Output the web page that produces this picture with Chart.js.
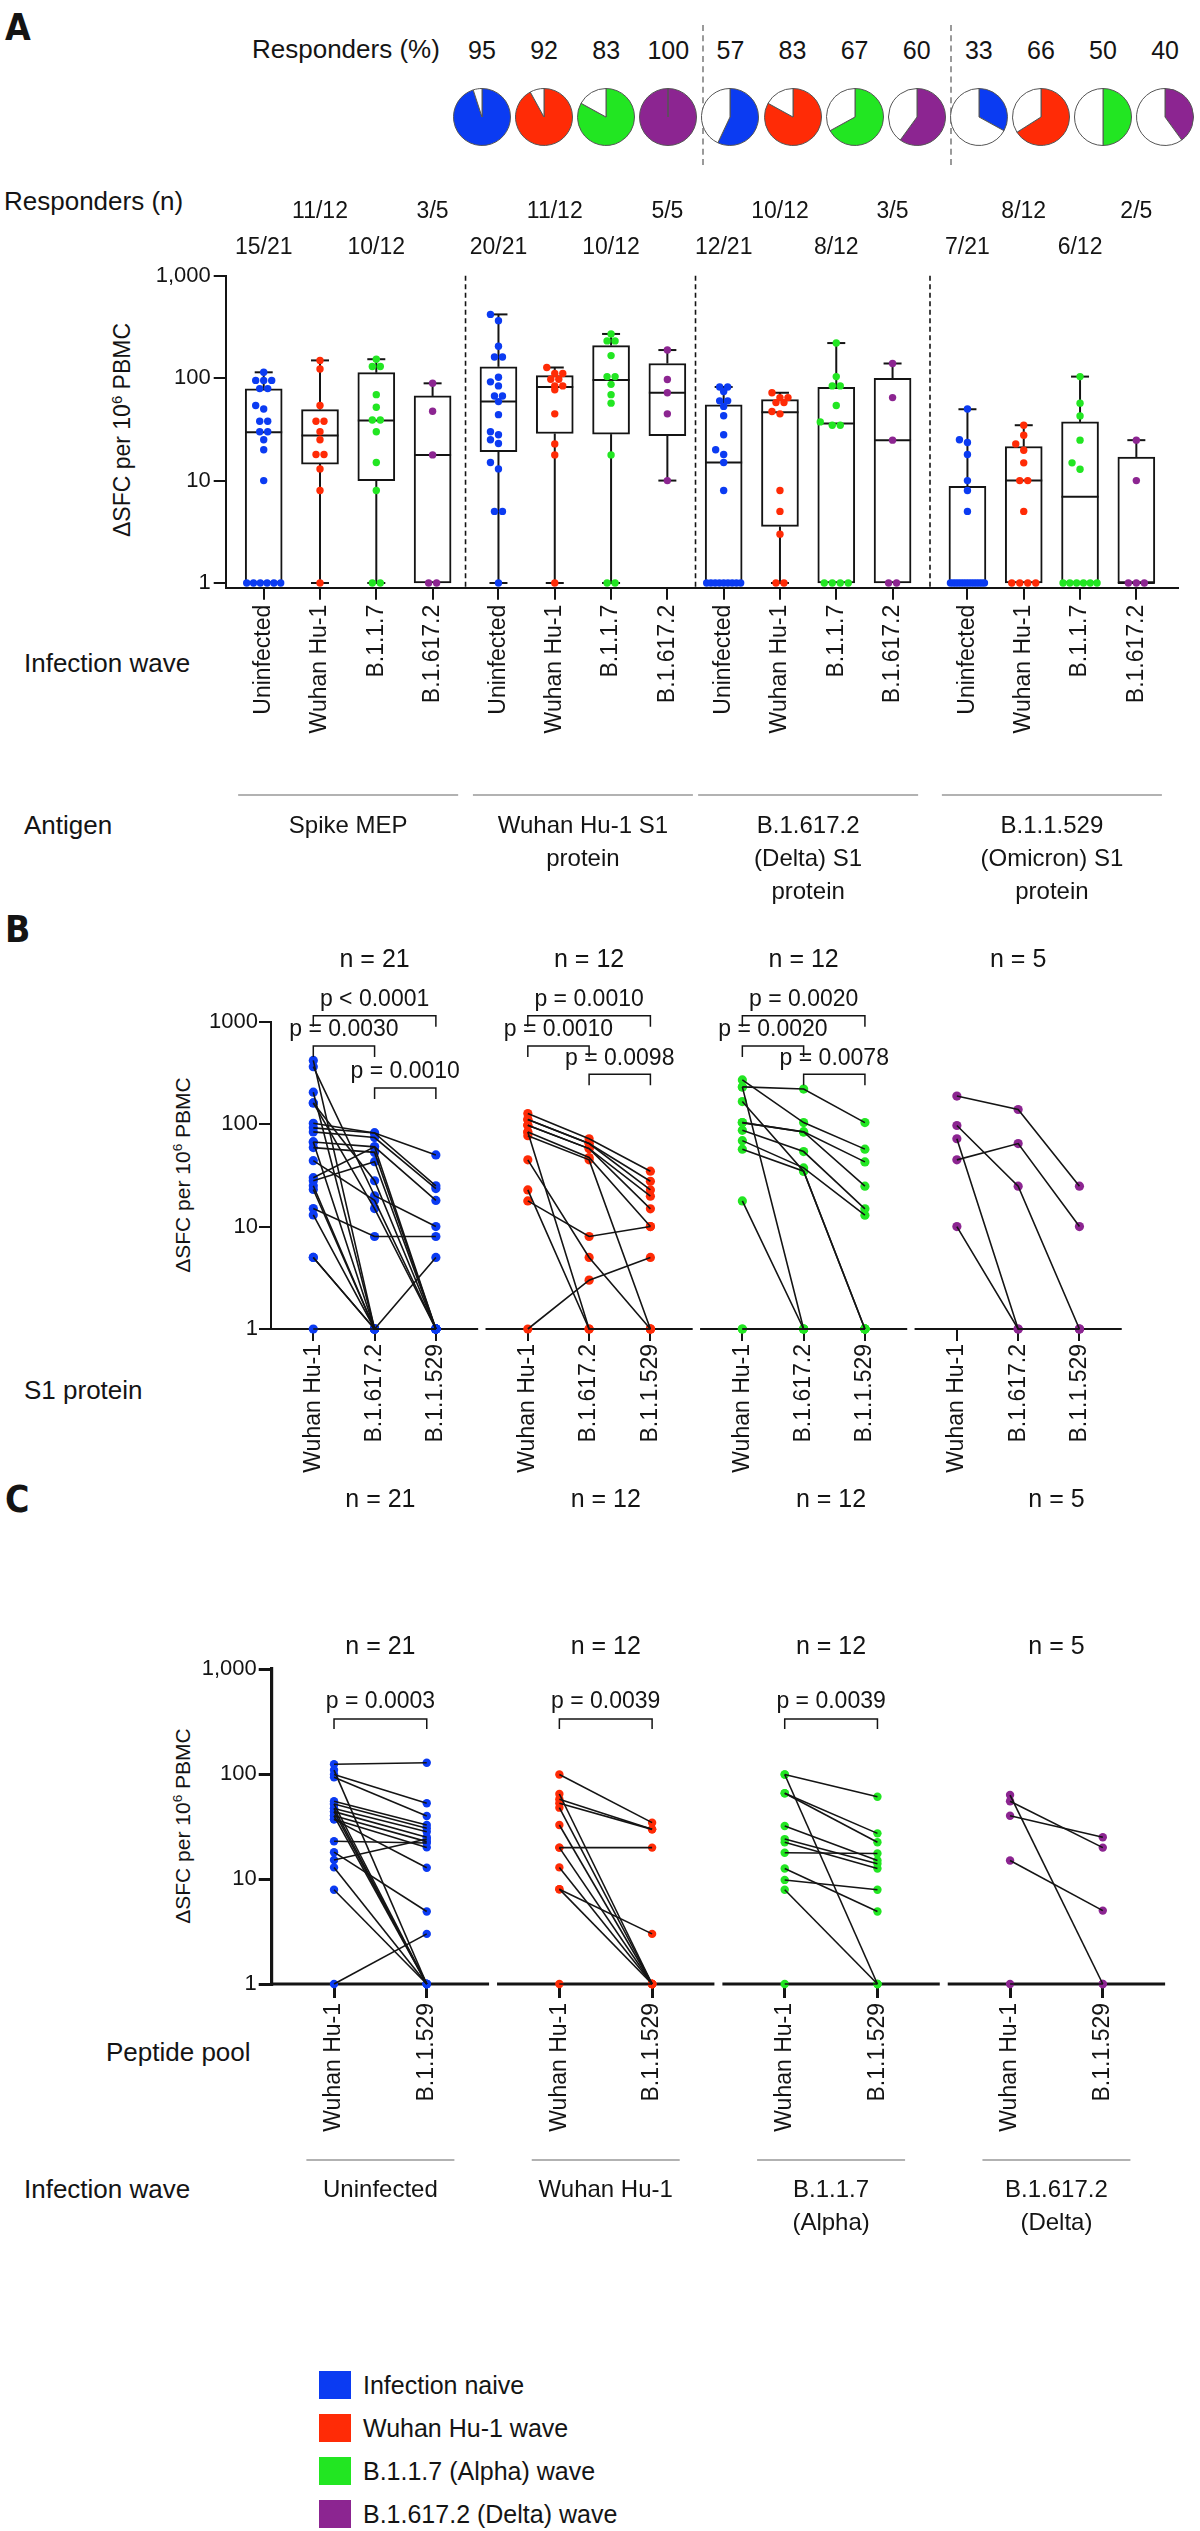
<!DOCTYPE html>
<html>
<head>
<meta charset="utf-8">
<title>SARS-CoV-2 T cell responses</title>
<script src="https://cdn.jsdelivr.net/npm/chart.js@4.4.1/dist/chart.umd.min.js"></script>
<style>
html,body{margin:0;padding:0;background:#fff;}
#root{position:relative;width:1200px;height:2531px;overflow:hidden;background:#fff;
  font-family:"Liberation Sans",Arial,Helvetica,sans-serif;color:#141414;}
.t{position:absolute;white-space:nowrap;line-height:1.15;}
.letter{font-family:"Liberation Sans Narrow","DejaVu Sans Condensed","Liberation Sans",sans-serif;font-weight:bold;}
canvas{position:absolute;}
.dash{position:absolute;border-left:2px dashed #9a9a9a;width:0;}
.sw{position:absolute;width:32px;height:28px;}
</style>
</head>
<body>
<div id="root"></div>
<script>
// ======================= DATA =======================
const waveNames = ['Infection naive', 'Wuhan Hu-1 wave', 'B.1.1.7 (Alpha) wave', 'B.1.617.2 (Delta) wave'];
const pieResponderPct = [95, 92, 83, 100, 57, 83, 67, 60, 33, 66, 50, 40];
const boxCategoryLabels = ['Uninfected', 'Wuhan Hu-1', 'B.1.1.7', 'B.1.617.2'];
const antigenLabels = [['Spike MEP'], ['Wuhan Hu-1 S1', 'protein'], ['B.1.617.2', '(Delta) S1', 'protein'], ['B.1.1.529', '(Omicron) S1', 'protein']];
const respondersN = ['15/21', '11/12', '10/12', '3/5', '20/21', '11/12', '10/12', '5/5', '12/21', '10/12', '8/12', '3/5', '7/21', '8/12', '6/12', '2/5'];
const yTickValues = [1, 10, 100, 1000];

// Panel A box statistics (min, Q1, median, Q3, max)
const boxMin    = [1, 1, 1, 1,    1, 1, 1, 10,      1, 1, 1, 1,       1, 1, 1, 1];
const boxQ1     = [1, 14.5, 10, 1, 19.2, 28.8, 28.4, 27.5, 1, 3.57, 1, 1, 1, 1, 1, 1];
const boxMedian = [29.7, 27.5, 38.5, 17.8, 59, 82, 96, 72, 15, 46.5, 36, 24.8, 1, 10, 6.95, 1];
const boxQ3     = [78.5, 49.3, 113, 67, 129, 106, 208, 139, 54.8, 61.8, 81.5, 99.7, 8.8, 21.5, 37.4, 17];
const boxMax    = [114, 149, 153, 89, 419, 127, 270, 188, 82, 72, 220, 139, 49.7, 34.7, 103.5, 24.8];

// Panel A, Spike MEP responses
const mepUninfected = [114, 95, 95, 95, 79, 79, 54, 50, 38, 38, 30, 30, 25, 20, 10, 1, 1, 1, 1, 1, 1];
const mepWuhan = [149, 123, 54, 38, 38, 30, 25, 18, 18, 13, 8, 1];
const mepAlpha = [153, 130, 130, 69, 52, 39, 39, 30, 15, 8, 1, 1];
const mepDelta = [89, 47.5, 17.8, 1, 1];

// Panels A and B, S1 protein responses, paired per donor (Wuhan Hu-1 / B.1.617.2 / B.1.1.529 S1)
const s1UninfWuhan   = [419, 364, 205, 161, 161, 102, 92, 84, 67, 67, 59, 44, 30, 28, 25, 23, 15, 13, 5, 5, 1];
const s1UninfDelta   = [1, 20, 1, 28, 15, 82, 82, 74, 60, 1, 53, 18, 60, 43, 1, 1, 8, 1, 1, 1, 1];
const s1UninfOmicron = [1, 10, 1, 1, 1, 50, 25, 23.5, 18, 1, 1, 1, 1, 1, 1, 1, 8, 1, 1, 5, 1];
const s1WuhanWuhan   = [127, 111, 111, 97.5, 97.5, 84, 84, 77, 44.8, 22.8, 17.8, 1];
const s1WuhanDelta   = [72, 64.6, 64.6, 57.7, 57.7, 47.2, 1, 44.8, 5, 1, 8, 3];
const s1WuhanOmicron = [34.7, 27.7, 22.8, 19.8, 14.9, 10, 1, 1, 1, 1, 10, 5];
const s1AlphaWuhan   = [270, 231, 231, 166, 103.5, 103.5, 87, 69, 57, 17.8, 1, 1];
const s1AlphaDelta   = [103.5, 220, 1, 34.7, 84, 84, 54, 37.4, 34.7, 1, 1, 1];
const s1AlphaOmicron = [57, 103.5, 1, 1, 42.8, 24.8, 14.9, 12.9, 1, 1, 1, 1];
const s1DeltaWuhan   = [188, 97, 72, 44.8, 10];
const s1DeltaDelta   = [139, 24.8, 1, 64.6, 1];
const s1DeltaOmicron = [24.8, 1, 1, 10, 1];
const s1ProteinLabels = ['Wuhan Hu-1', 'B.1.617.2', 'B.1.1.529'];
const bBrackets = [[0, 0, 2, 'p < 0.0001'], [0, 0, 1, 'p = 0.0030'], [0, 1, 2, 'p = 0.0010'],
                   [1, 0, 2, 'p = 0.0010'], [1, 0, 1, 'p = 0.0010'], [1, 1, 2, 'p = 0.0098'],
                   [2, 0, 2, 'p = 0.0020'], [2, 0, 1, 'p = 0.0020'], [2, 1, 2, 'p = 0.0078']];

// Panel C, peptide pool responses, paired per donor (Wuhan Hu-1 / B.1.1.529)
const pepUninfWuhan   = [124, 109, 99, 93, 55, 51.8, 47, 47, 43.8, 43.8, 40, 40, 37, 37, 22.9, 18, 15.2, 12.9, 7.9, 1, 51.8];
const pepUninfOmicron = [128, 1, 52.6, 39.8, 32.7, 30.4, 28.2, 1, 25, 1, 22.7, 1, 20, 12.8, 22, 4.9, 24, 1, 1, 3, 1];
const pepWuhanWuhan   = [99, 64.5, 57.4, 52.6, 47.8, 32.7, 19.9, 19.9, 12.9, 8, 8, 1];
const pepWuhanOmicron = [34.4, 1, 29.7, 29.7, 1, 1, 19.9, 1, 1, 3, 1, 1];
const pepAlphaWuhan   = [99, 99, 65.5, 65.5, 32, 22.4, 17.8, 12.6, 9.8, 7.9, 1, 24];
const pepAlphaOmicron = [60.8, 1, 27.2, 22.4, 15, 12.6, 17.5, 4.9, 7.9, 1, 1, 14];
const pepDeltaWuhan   = [63, 55, 40, 15, 1];
const pepDeltaOmicron = [1, 19.9, 25, 5, 1];
const peptideLabels = ['Wuhan Hu-1', 'B.1.1.529'];
const cBrackets = [[0, 'p = 0.0003'], [1, 'p = 0.0039'], [2, 'p = 0.0039']];
const cWaveLabels = [['Uninfected'], ['Wuhan Hu-1'], ['B.1.1.7', '(Alpha)'], ['B.1.617.2', '(Delta)']];

// ======================= STYLE / LAYOUT =======================
const FONT = '"Liberation Sans", Arial, Helvetica, sans-serif';
const INK = '#141414';
const WAVE_COLORS = ['#0b3bf2', '#ff2b06', '#22e622', '#8c2591'];
Chart.defaults.font.family = FONT;
Chart.defaults.color = INK;
Chart.defaults.animation = false;

const root = document.getElementById('root');
function addText(html, x, y, size, align, extra) {
  const d = document.createElement('div');
  d.className = 't' + (extra && extra.cls ? ' ' + extra.cls : '');
  d.innerHTML = html;
  d.style.fontSize = size + 'px';
  d.style.left = x + 'px';
  d.style.top = y + 'px';
  const tx = align === 'center' ? '-50%' : (align === 'right' ? '-100%' : '0');
  d.style.transform = 'translate(' + tx + ',-50%)' + (extra && extra.rot ? ' rotate(' + extra.rot + 'deg)' : '');
  root.appendChild(d);
  return d;
}
function makeCanvas(left, top, w, h) {
  const c = document.createElement('canvas');
  c.style.left = left + 'px'; c.style.top = top + 'px';
  c.style.width = w + 'px'; c.style.height = h + 'px';
  c.width = w; c.height = h;
  root.appendChild(c);
  return c;
}
function seg(ctx, x1, y1, x2, y2) { ctx.beginPath(); ctx.moveTo(x1, y1); ctx.lineTo(x2, y2); ctx.stroke(); }
function bracket(ctx, x1, x2, yy, drop) {
  ctx.beginPath(); ctx.moveTo(x1, yy + drop); ctx.lineTo(x1, yy); ctx.lineTo(x2, yy); ctx.lineTo(x2, yy + drop); ctx.stroke();
}
const baseOpts = {responsive: false, animation: false, events: [], plugins: {legend: {display: false}, tooltip: {enabled: false}}};

// ---------- static labels ----------
addText('A', 5, 28, 37, 'left', {cls: 'letter'});
addText('B', 5, 930, 37, 'left', {cls: 'letter'});
addText('C', 5, 1500, 37, 'left', {cls: 'letter'});
addText('Responders (%)', 252, 50, 26, 'left');
addText('Responders (n)', 4, 202, 26, 'left');
addText('Infection wave', 24, 664, 26, 'left');
addText('Antigen', 24, 826, 26, 'left');
addText('S1 protein', 24, 1391, 26, 'left');
addText('Peptide pool', 106, 2053, 26, 'left');
addText('Infection wave', 24, 2190, 26, 'left');
addText('ΔSFC per 10<sup style="font-size:0.65em;vertical-align:0.55em;line-height:0">6</sup> PBMC', 122, 430, 23, 'center', {rot: -90});
addText('ΔSFC per 10<sup style="font-size:0.65em;vertical-align:0.55em;line-height:0">6</sup> PBMC', 183, 1175, 21, 'center', {rot: -90});
addText('ΔSFC per 10<sup style="font-size:0.65em;vertical-align:0.55em;line-height:0">6</sup> PBMC', 183, 1826, 21, 'center', {rot: -90});
[702, 950].forEach(xx => { const d = document.createElement('div'); d.className = 'dash'; d.style.left = xx + 'px'; d.style.top = '25px'; d.style.height = '140px'; root.appendChild(d); });

// legend
waveNames.forEach((name, i) => {
  const yy = 2385 + i * 43;
  const s = document.createElement('div'); s.className = 'sw';
  s.style.left = '319px'; s.style.top = (yy - 14) + 'px'; s.style.background = WAVE_COLORS[i];
  root.appendChild(s);
  addText(name, 363, yy, 25, 'left');
});

// ---------- pies ----------
pieResponderPct.forEach((p, i) => {
  const cx = 482 + i * 62.1, cy = 117;
  const c = makeCanvas(cx - 30, cy - 30, 60, 60);
  new Chart(c, {
    type: 'pie',
    data: {labels: ['responders', 'non-responders'], datasets: [{
      data: [p, 100 - p], backgroundColor: [WAVE_COLORS[i % 4], '#ffffff'],
      borderColor: '#555', borderWidth: ctx => (ctx.raw === 0 ? 0 : 1)
    }]},
    options: Object.assign({}, baseOpts, {layout: {padding: 1}})
  });
  addText(String(p), cx, 50, 25, 'center');
});

// ======================= PANEL A =======================
const A_TOP = 150, A_H = 760, A_PAD_TOP = 125.7, A_PLOT_H = 312, A_PAD_BOTTOM = 150;
const A_GROUP_SHIFT = [0, 0.17, 0.17, 0.5];
const posA = i => i + A_GROUP_SHIFT[Math.floor(i / 4)];
const A_PX_PER_UNIT = 56.3, A_PX_PER_DECADE = 102.4;
const pointsA = [mepUninfected, mepWuhan, mepAlpha, mepDelta,
  s1UninfWuhan, s1WuhanWuhan, s1AlphaWuhan, s1DeltaWuhan,
  s1UninfDelta, s1WuhanDelta, s1AlphaDelta, s1DeltaDelta,
  s1UninfOmicron, s1WuhanOmicron, s1AlphaOmicron, s1DeltaOmicron];

// deterministic bee-swarm offsets (pixels) for dots within a box
function swarm(values) {
  const D = 7.4, STEP = 8, MAXH = 17;
  const order = values.map((v, i) => i).sort((a, b) => values[a] - values[b]);
  const out = new Array(values.length).fill(0);
  const placed = [];
  const cost = (x, y) => placed.reduce((s, p) => { const d = Math.hypot(p.x - x, p.y - y); return s + (d < D ? D - d : 0); }, 0);
  let k = 0;
  while (k < order.length) {
    let j = k;
    while (j < order.length && values[order[j]] === values[order[k]]) j++;
    const n = j - k, y = -Math.log10(values[order[k]]) * A_PX_PER_DECADE;
    if (n > 1) {
      const sp = Math.min(STEP, 2 * MAXH / (n - 1));
      let best = 0, bc = Infinity;
      for (const sh of [0, STEP / 2, -STEP / 2]) {
        let c = 0;
        for (let m = 0; m < n; m++) c += cost((m - (n - 1) / 2) * sp + sh, y);
        if (c < bc - 1e-9) { bc = c; best = sh; }
      }
      for (let m = 0; m < n; m++) { const x = (m - (n - 1) / 2) * sp + best; out[order[k + m]] = x; placed.push({x, y}); }
    } else {
      let best = 0, bc = Infinity;
      for (const cand of [0, -STEP, STEP, -2 * STEP, 2 * STEP]) {
        const c = cost(cand, y);
        if (c < bc - 1e-9) { bc = c; best = cand; }
        if (c === 0) break;
      }
      out[order[k]] = best; placed.push({x: best, y});
    }
    k = j;
  }
  return out;
}

const panelAPlugin = {
  id: 'panelA',
  afterDatasetDraw(chart, args) {
    if (args.index !== 0) return;
    const {ctx, scales: {x, y}} = chart;
    const Y = v => y.getPixelForValue(v);
    ctx.save(); ctx.strokeStyle = INK; ctx.lineWidth = 2;
    boxMedian.forEach((m, i) => {
      const cx = x.getPixelForValue(posA(i)), hw = 18.5, cw = 9;
      seg(ctx, cx - hw, Y(m), cx + hw, Y(m));
      if (boxMax[i] > boxQ3[i]) seg(ctx, cx, Y(boxQ3[i]), cx, Y(boxMax[i]));
      seg(ctx, cx - cw, Y(boxMax[i]), cx + cw, Y(boxMax[i]));
      if (boxMin[i] < boxQ1[i]) {
        seg(ctx, cx, Y(boxQ1[i]), cx, Y(boxMin[i]));
        seg(ctx, cx - cw, Y(boxMin[i]), cx + cw, Y(boxMin[i]));
      }
    });
    ctx.restore();
  },
  afterDraw(chart) {
    const {ctx, chartArea: ca, scales: {x}} = chart;
    ctx.save();
    ctx.strokeStyle = INK; ctx.lineWidth = 1.6; ctx.setLineDash([5, 3.5]);
    for (let g = 1; g < 4; g++) {
      const xm = (x.getPixelForValue(posA(4 * g - 1)) + x.getPixelForValue(posA(4 * g))) / 2;
      seg(ctx, xm, ca.top, xm, ca.bottom);
    }
    ctx.setLineDash([]);
    ctx.fillStyle = INK; ctx.textAlign = 'center'; ctx.textBaseline = 'middle';
    ctx.font = '23px ' + FONT;
    respondersN.forEach((t, i) => ctx.fillText(t, x.getPixelForValue(posA(i)), (i % 2 ? 212 : 248) - A_TOP));
    ctx.font = '24px ' + FONT; ctx.lineWidth = 1.2; ctx.strokeStyle = '#666';
    antigenLabels.forEach((lines, g) => {
      const c = (x.getPixelForValue(posA(4 * g)) + x.getPixelForValue(posA(4 * g + 3))) / 2;
      seg(ctx, c - 110, 795 - A_TOP, c + 110, 795 - A_TOP);
      lines.forEach((l, k) => ctx.fillText(l, c, 826 + 33 * k - A_TOP));
    });
    ctx.restore();
  }
};

const aDatasets = [{
  type: 'bar', label: 'IQR',
  data: boxQ1.map((q, i) => ({x: posA(i), y: [q, boxQ3[i]]})),
  backgroundColor: '#ffffff', borderColor: INK, borderWidth: 2, borderSkipped: false,
  barThickness: 37, grouped: false, order: 2, clip: false
}].concat(pointsA.map((vals, i) => {
  const off = swarm(vals);
  return {
    type: 'scatter', label: boxCategoryLabels[i % 4],
    data: vals.map((v, k) => ({x: posA(i) + off[k] / A_PX_PER_UNIT, y: v})),
    backgroundColor: WAVE_COLORS[i % 4], borderWidth: 0, pointRadius: 3.7, order: 1, clip: false
  };
}));

new Chart(makeCanvas(0, A_TOP, 1200, A_H), {
  type: 'bar',
  data: {datasets: aDatasets},
  options: Object.assign({}, baseOpts, {
    layout: {padding: {top: A_PAD_TOP, left: 0, right: 22, bottom: A_PAD_BOTTOM}},
    scales: {
      x: {
        type: 'linear', min: -0.675, max: 16.24, offset: false,
        afterBuildTicks: ax => { ax.ticks = boxQ1.map((_, i) => ({value: posA(i)})); },
        afterFit: ax => { ax.height = A_H - A_PAD_TOP - A_PLOT_H - A_PAD_BOTTOM; },
        grid: {offset: false, drawOnChartArea: false, drawTicks: true, tickLength: 12, color: INK, lineWidth: 2},
        border: {display: true, color: INK, width: 2},
        ticks: {autoSkip: false, maxRotation: 90, minRotation: 90, padding: 5, color: INK, font: {size: 23},
          callback: (v, i) => boxCategoryLabels[i % 4]}
      },
      y: {
        type: 'logarithmic', min: 0.9, max: 1000,
        afterBuildTicks: ax => { ax.ticks = yTickValues.map(v => ({value: v})); },
        afterFit: ax => { ax.width = 225.7; },
        grid: {drawOnChartArea: false, drawTicks: true, tickLength: 12, color: INK, lineWidth: 2},
        border: {display: true, color: INK, width: 2},
        ticks: {padding: 3, color: INK, font: {size: 22}, callback: v => Number(v).toLocaleString('en-US')}
      }
    }
  }),
  plugins: [panelAPlugin]
});

// ======================= PANEL B =======================
const B_TOP = 900, B_H = 600, B_PAD_TOP = 121.7, B_PLOT_H = 307.3;
const B_STRIDE = 3.5, B_HALF = 0.69;
const posB = (g, j) => g * B_STRIDE + j;
const bGroups = [[s1UninfWuhan, s1UninfDelta, s1UninfOmicron], [s1WuhanWuhan, s1WuhanDelta, s1WuhanOmicron],
                 [s1AlphaWuhan, s1AlphaDelta, s1AlphaOmicron], [s1DeltaWuhan, s1DeltaDelta, s1DeltaOmicron]];
const bBracketLevel = [1144, 579, 225, 1144, 579, 307, 1144, 579, 307];

function pairedDatasets(groups, pos, radius) {
  const ds = [];
  groups.forEach((grp, g) => {
    grp[0].forEach((_, k) => {
      ds.push({data: grp.map((arr, j) => ({x: pos(g, j), y: arr[k]})), showLine: true, borderColor: INK,
        borderWidth: 1.6, pointRadius: 0, order: 0, clip: false});
    });
    ds.push({data: grp.flatMap((arr, j) => arr.map(v => ({x: pos(g, j), y: v}))), showLine: false,
      backgroundColor: WAVE_COLORS[g], borderWidth: 0, pointRadius: radius, order: 1, clip: false});
  });
  return ds;
}

const panelBPlugin = {
  id: 'panelB',
  beforeDatasetsDraw(chart) {
    const {ctx, chartArea: ca, scales: {x}} = chart;
    ctx.save(); ctx.strokeStyle = INK; ctx.lineWidth = 2;
    bGroups.forEach((grp, g) => seg(ctx, x.getPixelForValue(posB(g, 0) - B_HALF), ca.bottom, x.getPixelForValue(posB(g, 2) + B_HALF), ca.bottom));
    ctx.restore();
  },
  afterDraw(chart) {
    const {ctx, scales: {x, y}} = chart;
    ctx.save(); ctx.strokeStyle = INK; ctx.fillStyle = INK; ctx.lineWidth = 1.5;
    ctx.textAlign = 'center'; ctx.textBaseline = 'middle';
    ctx.font = '23px ' + FONT;
    bBrackets.forEach((b, i) => {
      const x1 = x.getPixelForValue(posB(b[0], b[1])), x2 = x.getPixelForValue(posB(b[0], b[2]));
      const yy = y.getPixelForValue(bBracketLevel[i]);
      bracket(ctx, x1, x2, yy, 11);
      ctx.fillText(b[3], (x1 + x2) / 2, yy - 16);
    });
    ctx.font = '25px ' + FONT;
    bGroups.forEach((grp, g) => ctx.fillText('n = ' + grp[0].length, x.getPixelForValue(posB(g, 1)), 960 - B_TOP));
    ctx.restore();
  }
};

new Chart(makeCanvas(0, B_TOP, 1200, B_H), {
  type: 'scatter',
  data: {datasets: pairedDatasets(bGroups, posB, 4.6)},
  options: Object.assign({}, baseOpts, {
    layout: {padding: {top: B_PAD_TOP, left: 0, right: 66, bottom: 0}},
    scales: {
      x: {
        type: 'linear', min: -B_HALF, max: 3 * B_STRIDE + 2 + 0.89, offset: false,
        afterBuildTicks: ax => { ax.ticks = bGroups.flatMap((grp, g) => grp.map((_, j) => ({value: posB(g, j)}))); },
        afterFit: ax => { ax.height = B_H - B_PAD_TOP - B_PLOT_H; },
        grid: {offset: false, drawOnChartArea: false, drawTicks: true, tickLength: 12, color: INK, lineWidth: 2},
        border: {display: false},
        ticks: {autoSkip: false, maxRotation: 90, minRotation: 90, padding: 3, color: INK, font: {size: 23},
          callback: (v, i) => s1ProteinLabels[i % 3]}
      },
      y: {
        type: 'logarithmic', min: 1, max: 1000,
        afterBuildTicks: ax => { ax.ticks = yTickValues.map(v => ({value: v})); },
        afterFit: ax => { ax.width = 271; },
        grid: {drawOnChartArea: false, drawTicks: true, tickLength: 12, color: INK, lineWidth: 2},
        border: {display: true, color: INK, width: 2},
        ticks: {padding: 1, color: INK, font: {size: 22}, callback: v => String(v)}
      }
    }
  }),
  plugins: [panelBPlugin]
});

// ======================= PANEL C =======================
const C_TOP = 1440, C_H = 820, C_PAD_TOP = 229, C_PLOT_H = 315, C_PAD_BOTTOM = 100;
const C_STRIDE = 2.43, C_HALF = 0.672;
const posC = (g, j) => g * C_STRIDE + j;
const cGroups = [[pepUninfWuhan, pepUninfOmicron], [pepWuhanWuhan, pepWuhanOmicron],
                 [pepAlphaWuhan, pepAlphaOmicron], [pepDeltaWuhan, pepDeltaOmicron]];
const C_BRACKET_LEVEL = 334;

const panelCPlugin = {
  id: 'panelC',
  beforeDatasetsDraw(chart) {
    const {ctx, chartArea: ca, scales: {x}} = chart;
    ctx.save(); ctx.strokeStyle = INK; ctx.lineWidth = 3.2;
    cGroups.forEach((grp, g) => seg(ctx, x.getPixelForValue(posC(g, 0) - C_HALF), ca.bottom, x.getPixelForValue(posC(g, 1) + C_HALF), ca.bottom));
    ctx.restore();
  },
  afterDraw(chart) {
    const {ctx, scales: {x, y}} = chart;
    ctx.save(); ctx.strokeStyle = INK; ctx.fillStyle = INK; ctx.lineWidth = 1.5;
    ctx.textAlign = 'center'; ctx.textBaseline = 'middle';
    ctx.font = '23px ' + FONT;
    cBrackets.forEach(b => {
      const x1 = x.getPixelForValue(posC(b[0], 0)), x2 = x.getPixelForValue(posC(b[0], 1));
      const yy = y.getPixelForValue(C_BRACKET_LEVEL);
      bracket(ctx, x1, x2, yy, 10);
      ctx.fillText(b[1], (x1 + x2) / 2, yy - 17);
    });
    ctx.font = '25px ' + FONT;
    cGroups.forEach((grp, g) => {
      const cx = (x.getPixelForValue(posC(g, 0)) + x.getPixelForValue(posC(g, 1))) / 2;
      ctx.fillText('n = ' + grp[0].length, cx, 1500 - C_TOP);
      ctx.fillText('n = ' + grp[0].length, cx, 1647 - C_TOP);
    });
    ctx.font = '24px ' + FONT; ctx.lineWidth = 1.2; ctx.strokeStyle = '#666';
    cWaveLabels.forEach((lines, g) => {
      const cx = (x.getPixelForValue(posC(g, 0)) + x.getPixelForValue(posC(g, 1))) / 2;
      seg(ctx, cx - 74, 2160 - C_TOP, cx + 74, 2160 - C_TOP);
      lines.forEach((l, k) => ctx.fillText(l, cx, 2190 + 33 * k - C_TOP));
    });
    ctx.restore();
  }
};

new Chart(makeCanvas(0, C_TOP, 1200, C_H), {
  type: 'scatter',
  data: {datasets: pairedDatasets(cGroups, posC, 4.2)},
  options: Object.assign({}, baseOpts, {
    layout: {padding: {top: C_PAD_TOP, left: 0, right: 36, bottom: C_PAD_BOTTOM}},
    scales: {
      x: {
        type: 'linear', min: -C_HALF, max: 3 * C_STRIDE + 1 + 0.66, offset: false,
        afterBuildTicks: ax => { ax.ticks = cGroups.flatMap((grp, g) => grp.map((_, j) => ({value: posC(g, j)}))); },
        afterFit: ax => { ax.height = C_H - C_PAD_TOP - C_PLOT_H - C_PAD_BOTTOM; },
        grid: {offset: false, drawOnChartArea: false, drawTicks: true, tickLength: 14, color: INK, lineWidth: 3},
        border: {display: false},
        ticks: {autoSkip: false, maxRotation: 90, minRotation: 90, padding: 5, color: INK, font: {size: 23},
          callback: (v, i) => peptideLabels[i % 2]}
      },
      y: {
        type: 'logarithmic', min: 1, max: 1000,
        afterBuildTicks: ax => { ax.ticks = yTickValues.map(v => ({value: v})); },
        afterFit: ax => { ax.width = 271.7; },
        grid: {drawOnChartArea: false, drawTicks: true, tickLength: 13, color: INK, lineWidth: 3},
        border: {display: true, color: INK, width: 3.2},
        ticks: {padding: 2, color: INK, font: {size: 22}, callback: v => Number(v).toLocaleString('en-US')}
      }
    }
  }),
  plugins: [panelCPlugin]
});
</script>
</body>
</html>
